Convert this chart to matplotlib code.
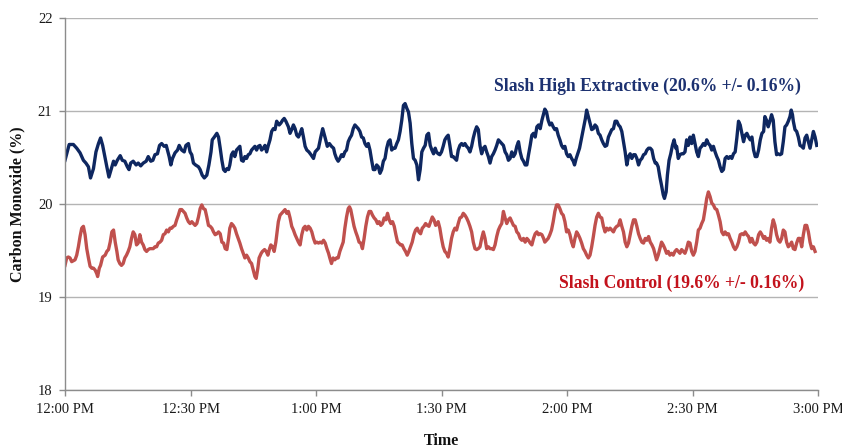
import matplotlib
matplotlib.use("Agg")
import matplotlib.pyplot as plt

# Minutes after 12:00 PM and CO readings (%) for each treatment
high_minutes = [
    0.0, 1.0, 2.0, 2.8, 3.6, 4.4, 5.0, 5.6, 6.1, 6.8, 7.4, 8.0, 8.5, 9.0, 9.6, 10.0, 10.5, 11.2, 11.6, 12.0,
    12.5, 13.2, 13.7, 14.3, 14.9, 15.3, 15.7, 16.3, 17.0, 17.5, 18.1, 18.7, 19.4, 19.9, 20.5, 21.0, 21.5, 22.1,
    22.6, 23.1, 23.7, 24.2, 24.5, 24.9, 25.3, 25.7, 26.3, 26.9, 27.3, 27.9, 28.5, 28.9, 29.5, 29.9,
    30.3, 30.7, 31.2, 31.9, 32.3, 32.8, 33.3, 33.9, 34.4, 34.9, 35.2, 35.7, 36.3, 36.7, 37.1, 37.5, 37.9, 38.3,
    38.7, 39.1, 39.4, 39.8, 40.2, 40.6, 41.0, 41.4, 41.8, 42.2, 42.6, 43.0, 43.4, 43.8, 44.2, 44.6, 45.0, 45.4,
    45.8, 46.2, 46.6, 47.0, 47.4, 47.8, 48.2, 48.6, 49.0, 49.4, 49.8, 50.2, 50.6, 51.2, 51.6, 52.0, 52.4, 52.8,
    53.4, 53.8, 54.2, 54.6, 55.0, 55.4, 55.8, 56.2, 56.6, 57.0, 57.4, 57.8, 58.3, 58.8, 59.4,
    59.8, 60.2, 60.6, 61.1, 61.6, 62.2, 62.7, 63.2, 63.7, 64.2, 64.5, 64.9, 65.3, 65.7, 66.1, 66.5, 66.9, 67.3,
    67.7, 68.1, 68.5, 68.9, 69.3, 69.7, 70.1, 70.5, 70.9, 71.3, 71.7, 72.1, 72.5, 72.9, 73.3, 73.7, 74.1, 74.5,
    74.9, 75.3, 75.7, 76.1, 76.5, 76.9, 77.3, 77.7, 78.1, 78.5, 78.9, 79.3, 79.7, 80.1, 80.5, 80.9, 81.3, 81.7,
    82.1, 82.5, 82.9, 83.3, 83.7, 84.1, 84.5, 84.9, 85.3, 85.7, 86.1, 86.5, 86.9, 87.3, 87.7, 88.1, 88.5, 88.8,
    89.2, 89.6, 90.0, 90.4, 90.8, 91.2, 91.6, 92.0, 92.4, 92.8, 93.2, 93.6, 94.0, 94.4, 94.8, 95.2, 95.6, 96.0,
    96.4, 96.8, 97.2, 97.6, 98.0, 98.4, 98.8, 99.2, 99.6, 100.0, 100.4, 100.8, 101.2, 101.6, 102.0, 102.4,
    102.8, 103.2, 103.6, 104.0, 104.4, 104.8, 105.2, 105.6, 106.0, 106.4, 106.8, 107.2, 107.6, 108.0, 108.4,
    108.8, 109.2, 109.6, 110.0, 110.4, 110.8, 111.2, 111.6, 112.0, 112.4, 112.8, 113.2, 113.6, 114.0, 114.4,
    114.7, 115.1, 115.5, 115.9, 116.3, 116.7, 117.1, 117.5, 117.9, 118.3, 118.7,
    119.1, 119.5, 119.9, 120.3, 120.7, 121.1, 121.5, 121.8, 122.2, 122.5, 123.0, 123.3, 123.7, 124.1, 124.4,
    124.7, 125.1, 125.5, 125.9, 126.3, 126.7, 127.1, 127.5, 127.9, 128.3, 128.7, 129.1, 129.5, 129.9, 130.3,
    130.7, 131.1, 131.5, 131.9, 132.3, 132.7, 133.1, 133.5, 133.9, 134.3, 134.7, 135.1, 135.5, 135.9, 136.3,
    136.7, 137.1, 137.5, 137.9, 138.3, 138.7, 139.1, 139.5, 139.9, 140.3, 140.7, 141.1, 141.4, 141.8, 142.2,
    142.6, 143.0, 143.3, 143.7, 144.0, 144.4, 144.8, 145.2, 145.6, 146.0, 146.2, 146.6, 147.0, 147.4, 147.8,
    148.2, 148.6,
    149.0, 149.4, 149.8, 150.2, 150.6, 151.0, 151.4, 151.8, 152.2, 152.6, 153.0, 153.4, 153.8, 154.2, 154.6,
    155.0, 155.4, 155.8, 156.2, 156.6, 157.0, 157.4, 157.8, 158.2, 158.6, 159.0, 159.4, 159.8, 160.2, 160.6,
    161.0, 161.4, 161.8, 162.2, 162.6, 163.0, 163.4, 163.8, 164.2, 164.6, 165.0, 165.4, 165.8, 166.2, 166.6,
    167.0, 167.3, 167.7, 168.1, 168.5, 168.9, 169.3, 169.7, 170.1, 170.5, 170.9, 171.3, 171.7, 172.1, 172.5,
    172.9, 173.3, 173.6, 173.9, 174.1, 174.5, 174.9, 175.3, 175.7, 176.1, 176.5, 176.9, 177.3, 177.7, 178.1,
    178.5, 178.9, 179.3, 179.7,
]
high_co = [
    20.47, 20.64, 20.64, 20.60, 20.55, 20.47, 20.44, 20.40, 20.28, 20.38, 20.56, 20.65, 20.71, 20.63, 20.49,
    20.40, 20.29, 20.40, 20.46, 20.42, 20.47, 20.52, 20.47, 20.46, 20.40, 20.37, 20.44, 20.46, 20.42, 20.44,
    20.41, 20.44, 20.46, 20.51, 20.46, 20.47, 20.53, 20.54, 20.63, 20.65, 20.62, 20.63, 20.58, 20.51, 20.42,
    20.49, 20.55, 20.58, 20.63, 20.58, 20.56, 20.63, 20.65, 20.56,
    20.53, 20.44, 20.42, 20.40, 20.37, 20.31, 20.28, 20.31, 20.42, 20.56, 20.69, 20.72, 20.76, 20.72, 20.60,
    20.47, 20.37, 20.35, 20.38, 20.37, 20.42, 20.53, 20.56, 20.51, 20.58, 20.60, 20.62, 20.47, 20.46, 20.51,
    20.49, 20.53, 20.54, 20.58, 20.60, 20.62, 20.58, 20.62, 20.63, 20.58, 20.60, 20.63, 20.56, 20.63, 20.69,
    20.78, 20.81, 20.80, 20.89, 20.85, 20.87, 20.90, 20.92, 20.89, 20.83, 20.76, 20.80, 20.85, 20.81, 20.74,
    20.72, 20.76, 20.81, 20.72, 20.62, 20.58, 20.56, 20.53, 20.49,
    20.56, 20.58, 20.60, 20.71, 20.81, 20.71, 20.62, 20.65, 20.62, 20.60, 20.54, 20.49, 20.46, 20.49, 20.53,
    20.51, 20.56, 20.58, 20.67, 20.71, 20.74, 20.81, 20.85, 20.83, 20.81, 20.78, 20.72, 20.71, 20.65, 20.62,
    20.65, 20.58, 20.47, 20.37, 20.37, 20.42, 20.40, 20.33, 20.37, 20.46, 20.49, 20.60, 20.67, 20.69, 20.58,
    20.60, 20.60, 20.65, 20.69, 20.78, 20.90, 21.06, 21.08, 21.03, 20.99, 20.87, 20.65, 20.49, 20.47, 20.42,
    20.26, 20.37, 20.56, 20.60, 20.63, 20.74, 20.76, 20.63, 20.58, 20.54, 20.60, 20.56,
    20.54, 20.53, 20.56, 20.62, 20.69, 20.72, 20.74, 20.63, 20.51, 20.51, 20.49, 20.47, 20.58, 20.63, 20.65,
    20.63, 20.65, 20.62, 20.60, 20.56, 20.62, 20.71, 20.78, 20.83, 20.80, 20.63, 20.54, 20.60, 20.62, 20.56,
    20.51, 20.44, 20.51, 20.54, 20.58, 20.63, 20.69, 20.67, 20.65, 20.63, 20.56, 20.53, 20.47, 20.49, 20.56,
    20.51, 20.54, 20.62, 20.67, 20.56, 20.49, 20.46, 20.42, 20.42, 20.53, 20.63, 20.74, 20.76, 20.72, 20.83,
    20.85, 20.81, 20.90, 20.97, 21.02, 20.99, 20.90, 20.85, 20.87, 20.83, 20.80, 20.81, 20.74, 20.69, 20.63,
    20.60, 20.62, 20.54, 20.51, 20.53, 20.49, 20.46, 20.42, 20.49, 20.53, 20.60, 20.67, 20.76, 20.85, 20.92,
    21.01, 20.94, 20.87, 20.80, 20.81, 20.85, 20.83, 20.76, 20.74, 20.69, 20.65, 20.62, 20.63, 20.72, 20.76,
    20.80, 20.81, 20.89, 20.89, 20.85, 20.83, 20.78, 20.67, 20.56, 20.42, 20.51, 20.54, 20.49, 20.53, 20.53,
    20.49, 20.42, 20.47, 20.49, 20.53, 20.54, 20.58, 20.60, 20.60, 20.58, 20.49, 20.44, 20.44, 20.40, 20.29,
    20.20, 20.10, 20.06, 20.13, 20.31, 20.47, 20.54, 20.63, 20.69, 20.60, 20.62, 20.49, 20.53, 20.54, 20.54,
    20.56, 20.69,
    20.63, 20.72, 20.65, 20.74, 20.65, 20.56, 20.51, 20.60, 20.62, 20.65, 20.63, 20.69, 20.65, 20.63, 20.58,
    20.62, 20.56, 20.51, 20.47, 20.40, 20.35, 20.37, 20.49, 20.51, 20.49, 20.51, 20.49, 20.54, 20.56, 20.71,
    20.89, 20.85, 20.76, 20.67, 20.74, 20.76, 20.72, 20.69, 20.72, 20.58, 20.51, 20.51, 20.58, 20.69, 20.76,
    20.78, 20.94, 20.90, 20.83, 20.89, 20.96, 20.90, 20.67, 20.53, 20.54, 20.53, 20.54, 20.67, 20.83, 20.85,
    20.89, 20.94, 21.01, 20.96, 20.89, 20.80, 20.78, 20.72, 20.63, 20.62, 20.60, 20.71, 20.74, 20.67, 20.60,
    20.69, 20.78, 20.72, 20.63,
]

control_minutes = [
    0.0, 0.4, 0.8, 1.2, 1.6, 2.4, 2.8, 3.2, 3.6, 4.0, 4.4, 4.8, 5.2, 5.6, 6.0, 6.4, 6.8, 7.2, 7.6, 7.8, 8.2,
    8.5, 9.0, 9.6, 10.0, 10.4, 10.8, 11.2, 11.6, 12.0, 12.4, 12.7, 13.1, 13.5, 13.9, 14.3, 14.7, 15.1, 15.5,
    15.9, 16.3, 16.7, 17.1, 17.5, 17.9, 18.3, 18.7, 19.1, 19.5, 19.9, 20.3, 20.7, 21.1, 21.5, 21.9, 22.3,
    22.7, 23.1, 23.5, 23.9, 24.3, 24.7, 25.1, 25.5, 25.9, 26.3, 26.7, 27.1, 27.5, 27.9, 28.3, 28.7, 29.1,
    29.5, 29.9,
    30.3, 30.7, 31.1, 31.5, 31.9, 32.3, 32.7, 33.1, 33.5, 33.9, 34.3, 34.7, 35.1, 35.5, 35.9, 36.3, 36.7,
    37.1, 37.5, 37.9, 38.3, 38.7, 39.1, 39.4, 39.8, 40.2, 40.6, 41.0, 41.4, 41.8, 42.2, 42.6, 43.0, 43.4,
    43.8, 44.2, 44.6, 45.0, 45.4, 45.7, 46.1, 46.4, 46.9, 47.2, 47.7, 48.1, 48.5, 48.9, 49.2, 49.6, 50.0,
    50.4, 50.7, 51.0, 51.4, 51.8, 52.2, 52.6, 53.0, 53.4, 53.8, 54.2, 54.6, 55.0, 55.4, 55.8, 56.2, 56.6,
    57.0, 57.4, 57.8, 58.2, 58.6, 59.0,
    59.4, 59.8, 60.2, 60.6, 61.0, 61.4, 61.8, 62.2, 62.6, 63.0, 63.3, 63.7, 64.1, 64.5, 64.9, 65.3, 65.7,
    66.1, 66.5, 66.9, 67.3, 67.7, 68.0, 68.3, 68.7, 69.1, 69.5, 69.9, 70.3, 70.7, 71.1, 71.5, 71.9, 72.3,
    72.7, 73.1, 73.5, 73.9, 74.3, 74.7, 75.1, 75.5, 75.9, 76.3, 76.7, 77.1, 77.5, 77.9, 78.3, 78.7, 79.1,
    79.5, 79.8, 80.2, 80.6, 81.0, 81.4, 81.8, 82.2, 82.6, 83.0, 83.4, 83.8, 84.2, 84.6, 85.0, 85.4, 85.8,
    86.2, 86.6, 87.0, 87.4, 87.8, 88.2, 88.6, 89.0,
    89.2, 89.6, 90.0, 90.4, 90.8, 91.2, 91.6, 92.0, 92.4, 92.8, 93.2, 93.6, 94.0, 94.4, 94.8, 95.2, 95.6,
    96.0, 96.4, 96.8, 97.2, 97.6, 98.0, 98.4, 98.8, 99.2, 99.6, 100.0, 100.4, 100.8, 101.2, 101.6, 102.0,
    102.4, 102.8, 103.2, 103.6, 104.0, 104.4, 104.8, 105.2, 105.6, 106.0, 106.4, 106.8, 107.2, 107.6, 108.0,
    108.4, 108.8, 109.2, 109.6, 110.0, 110.4, 110.8, 111.2, 111.6, 112.0, 112.4, 112.8, 113.2, 113.6, 114.0,
    114.4, 114.7, 115.1, 115.5, 115.9, 116.3, 116.7, 117.1, 117.5, 117.9, 118.3, 118.7,
    119.1, 119.5, 119.9, 120.3, 120.7, 121.1, 121.5, 121.9, 122.3, 122.7, 123.1, 123.5, 123.9, 124.3, 124.7,
    125.1, 125.5, 125.9, 126.3, 126.7, 127.1, 127.5, 127.9, 128.3, 128.7, 129.1, 129.5, 129.9, 130.3, 130.7,
    131.1, 131.5, 131.9, 132.3, 132.7, 133.1, 133.5, 133.9, 134.3, 134.7, 135.1, 135.5, 135.9, 136.3, 136.7,
    137.1, 137.5, 137.9, 138.3, 138.7, 139.1, 139.5, 139.9, 140.3, 140.7, 141.1, 141.4, 141.8, 142.2, 142.6,
    143.0, 143.4, 143.8, 144.2, 144.6, 145.0, 145.4, 145.8, 146.2, 146.6, 147.0, 147.4, 147.8, 148.2,
    148.6, 149.0, 149.4, 149.8, 150.2, 150.6, 151.0, 151.4, 151.8, 152.2, 152.6, 153.0, 153.4, 153.8, 154.2,
    154.6, 155.0, 155.4, 155.8, 156.2, 156.6, 157.0, 157.4, 157.8, 158.2, 158.6, 159.0, 159.4, 159.8, 160.2,
    160.6, 161.0, 161.4, 161.8, 162.2, 162.6, 163.0, 163.4, 163.8, 164.2, 164.6, 165.0, 165.4, 165.8, 166.2,
    166.6, 167.0, 167.3, 167.7, 168.1, 168.5, 168.9, 169.3, 169.7, 170.1, 170.5, 170.9, 171.3, 171.7, 172.1,
    172.5, 172.9, 173.3, 173.7, 174.1, 174.5, 174.9, 175.3, 175.7, 176.1, 176.5, 176.9, 177.3, 177.7, 178.1,
    178.5, 178.9, 179.3,
]
control_co = [
    19.34, 19.42, 19.43, 19.42, 19.38, 19.40, 19.45, 19.54, 19.65, 19.74, 19.76, 19.67, 19.52, 19.42, 19.33,
    19.31, 19.31, 19.29, 19.25, 19.22, 19.31, 19.34, 19.43, 19.45, 19.49, 19.51, 19.59, 19.70, 19.72, 19.59,
    19.49, 19.40, 19.36, 19.34, 19.36, 19.42, 19.45, 19.49, 19.54, 19.63, 19.70, 19.67, 19.56, 19.58, 19.67,
    19.59, 19.56, 19.51, 19.49, 19.51, 19.52, 19.52, 19.52, 19.54, 19.54, 19.58, 19.59, 19.61, 19.67, 19.68,
    19.72, 19.70, 19.74, 19.74, 19.76, 19.77, 19.83, 19.88, 19.94, 19.94, 19.92, 19.90, 19.85, 19.81, 19.79,
    19.81, 19.79, 19.77, 19.79, 19.86, 19.95, 19.99, 19.95, 19.94, 19.86, 19.77, 19.76, 19.74, 19.70, 19.67,
    19.68, 19.70, 19.68, 19.59, 19.58, 19.52, 19.51, 19.63, 19.74, 19.79, 19.77, 19.74, 19.68, 19.63, 19.58,
    19.52, 19.47, 19.42, 19.45, 19.42, 19.38, 19.36, 19.29, 19.22, 19.20, 19.31, 19.42, 19.47, 19.49, 19.51,
    19.49, 19.45, 19.52, 19.56, 19.54, 19.49, 19.59, 19.70, 19.81, 19.88, 19.90, 19.92, 19.94, 19.90, 19.92,
    19.85, 19.76, 19.72, 19.67, 19.63, 19.59, 19.56, 19.67, 19.74, 19.76, 19.72, 19.76, 19.74, 19.70,
    19.63, 19.58, 19.59, 19.58, 19.59, 19.58, 19.61, 19.58, 19.52, 19.47, 19.42, 19.36, 19.42, 19.40, 19.42,
    19.42, 19.49, 19.54, 19.59, 19.74, 19.86, 19.95, 19.97, 19.94, 19.85, 19.76, 19.70, 19.65, 19.59, 19.58,
    19.52, 19.63, 19.76, 19.86, 19.92, 19.92, 19.88, 19.85, 19.83, 19.79, 19.81, 19.77, 19.79, 19.85, 19.83,
    19.90, 19.83, 19.79, 19.81, 19.76, 19.67, 19.59, 19.58, 19.56, 19.56, 19.52, 19.49, 19.45, 19.49, 19.54,
    19.59, 19.67, 19.72, 19.74, 19.70, 19.68, 19.74, 19.76, 19.79, 19.77, 19.76, 19.81, 19.86, 19.83, 19.77,
    19.79,
    19.81, 19.74, 19.63, 19.54, 19.49, 19.47, 19.43, 19.52, 19.63, 19.70, 19.74, 19.72, 19.79, 19.85, 19.86,
    19.90, 19.88, 19.85, 19.81, 19.76, 19.70, 19.59, 19.52, 19.51, 19.52, 19.54, 19.63, 19.70, 19.63, 19.52,
    19.54, 19.52, 19.52, 19.51, 19.56, 19.65, 19.72, 19.76, 19.79, 19.92, 19.85, 19.79, 19.83, 19.85, 19.81,
    19.77, 19.76, 19.70, 19.68, 19.63, 19.61, 19.63, 19.59, 19.63, 19.61, 19.58, 19.56, 19.63, 19.68, 19.70,
    19.67, 19.68, 19.67, 19.63, 19.59, 19.61, 19.63, 19.67, 19.72, 19.81, 19.92, 19.99, 19.99, 19.95, 19.90,
    19.88, 19.81, 19.70, 19.72, 19.67, 19.59, 19.54, 19.63, 19.70, 19.67, 19.63, 19.58, 19.52, 19.49, 19.45,
    19.42, 19.45, 19.54, 19.65, 19.77, 19.86, 19.90, 19.86, 19.85, 19.76, 19.70, 19.74, 19.72, 19.74, 19.72,
    19.70, 19.74, 19.76, 19.77, 19.83, 19.76, 19.70, 19.59, 19.54, 19.58, 19.67, 19.76, 19.83, 19.83, 19.76,
    19.68, 19.63, 19.59, 19.58, 19.63, 19.61, 19.65, 19.59, 19.56, 19.52, 19.45, 19.40, 19.45, 19.52, 19.59,
    19.56, 19.52, 19.47, 19.49, 19.45, 19.47, 19.45, 19.49, 19.51, 19.49, 19.47, 19.51, 19.49, 19.47,
    19.52, 19.59, 19.58, 19.49, 19.45, 19.49, 19.59, 19.72, 19.74, 19.79, 19.83, 19.94, 20.06, 20.13, 20.08,
    20.01, 19.99, 19.95, 19.94, 19.88, 19.81, 19.70, 19.67, 19.70, 19.67, 19.68, 19.63, 19.59, 19.54, 19.51,
    19.54, 19.59, 19.67, 19.68, 19.67, 19.70, 19.67, 19.65, 19.59, 19.63, 19.58, 19.56, 19.59, 19.67, 19.70,
    19.67, 19.63, 19.65, 19.61, 19.63, 19.59, 19.74, 19.83, 19.77, 19.67, 19.61, 19.59, 19.63, 19.72, 19.70,
    19.59, 19.54, 19.56, 19.59, 19.52, 19.51, 19.58, 19.63, 19.63, 19.54, 19.67, 19.77, 19.77, 19.70, 19.59,
    19.52, 19.54, 19.49,
]

tick_minutes = [0, 30, 60, 90, 120, 150, 180]
tick_labels = ["12:00 PM", "12:30 PM", "1:00 PM", "1:30 PM", "2:00 PM", "2:30 PM", "3:00 PM"]
y_ticks = [18, 19, 20, 21, 22]

high_label = "Slash High Extractive (20.6% +/- 0.16%)"
control_label = "Slash Control (19.6% +/- 0.16%)"

SERIF = ["Liberation Serif", "DejaVu Serif"]
BLUE_LINE = "#0e2760"
RED_LINE = "#c0504d"
BLUE_TEXT = "#1c3170"
RED_TEXT = "#c3121c"
AXIS_GRAY = "#8c8c8c"
GRID_GRAY = "#b4b4b4"

fig = plt.figure(figsize=(8.42, 4.48), dpi=100)
ax = fig.add_axes([65 / 842, 58 / 448, 753 / 842, 372 / 448])

ax.plot(high_minutes, high_co, color=BLUE_LINE, lw=2.4, solid_joinstyle="round")
ax.plot(control_minutes, control_co, color=RED_LINE, lw=2.4, solid_joinstyle="round")

ax.set_xlim(0, 180)
ax.set_ylim(18, 22)
ax.set_xticks(tick_minutes)
ax.set_xticklabels(tick_labels)
ax.set_yticks(y_ticks)
ax.set_yticklabels([str(v) for v in y_ticks])

ax.yaxis.grid(True, color=GRID_GRAY, lw=1.0)
ax.set_axisbelow(True)
for side in ("top", "right"):
    ax.spines[side].set_visible(False)
for side in ("left", "bottom"):
    ax.spines[side].set_color(AXIS_GRAY)
    ax.spines[side].set_linewidth(1.0)

ax.tick_params(axis="both", direction="out", length=4, width=1, color=AXIS_GRAY,
               labelsize=10.5, pad=5)
for lbl in ax.get_xticklabels() + ax.get_yticklabels():
    lbl.set_family(SERIF)
    lbl.set_color("#1a1a1a")

ax.set_ylabel("Carbon Monoxide (%)", family=SERIF, fontweight="bold", fontsize=11.5, color="#111111")
ax.yaxis.set_label_coords(-0.053, 0.5)
ax.set_xlabel("Time", family=SERIF, fontweight="bold", fontsize=11.5, color="#111111")
ax.xaxis.set_label_coords(0.5, -0.115)

ax.text(0.774, 0.815, high_label, transform=ax.transAxes, ha="center", va="center",
        family=SERIF, fontweight="bold", fontsize=12.7, color=BLUE_TEXT)
ax.text(0.819, 0.288, control_label, transform=ax.transAxes, ha="center", va="center",
        family=SERIF, fontweight="bold", fontsize=12.7, color=RED_TEXT)

fig.savefig("out.png", dpi=100)
